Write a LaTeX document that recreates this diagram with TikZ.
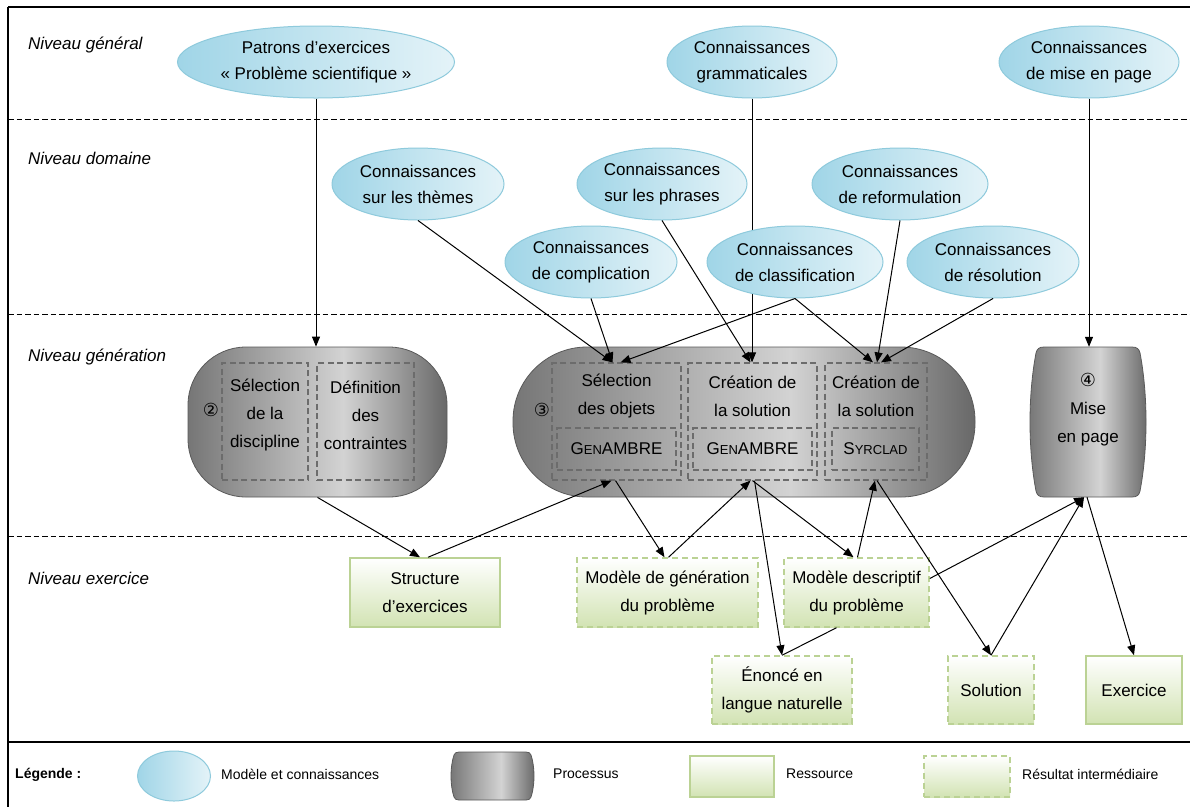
\documentclass[tikz,border=0pt]{standalone}
\usepackage{fontspec}
\setmainfont{Liberation Sans}
\newfontfamily\symf{DejaVu Sans}
\usetikzlibrary{shapes.geometric,arrows.meta,calc}
\definecolor{ellD}{HTML}{A0D5E7}
\definecolor{ellL}{HTML}{E4F3F8}
\definecolor{ellB}{HTML}{8ECADC}
\definecolor{grnB}{HTML}{BBD294}
\definecolor{grnF}{HTML}{D2E3B3}
\definecolor{pA}{HTML}{767676}
\definecolor{pL}{HTML}{D3D3D3}
\definecolor{pC}{HTML}{686868}
\definecolor{pB}{HTML}{5A5A5A}
\definecolor{dashG}{HTML}{6C6C6C}
\pgfdeclarehorizontalshading{procsh}{100bp}{color(0bp)=(pA); color(25bp)=(pA); color(55bp)=(pL); color(75bp)=(pC); color(100bp)=(pC)}
\newcommand{\GenAm}{G{\fontsize{13}{13}\selectfont EN}AMBRE}
\newcommand{\SyrCl}{S{\fontsize{13}{13}\selectfont YRCLAD}}
\tikzset{
 ell/.style={ellipse, draw=ellB, line width=1pt, left color=ellD, right color=ellL, align=center, inner sep=0pt, font=\fontsize{17}{26}\selectfont},
 proc/.style={draw=pB, line width=0.8pt, shade, shading=procsh},
 inbox/.style={draw=dashG, line width=1.2pt, dash pattern=on 6pt off 3.5pt, inner sep=0pt},
 resbox/.style={draw=grnB, line width=1.5pt, top color=white, bottom color=grnF, align=center, inner sep=0pt},
 midbox/.style={resbox, dash pattern=on 6pt off 4pt},
 arr/.style={-{Triangle[length=10pt,width=8pt]}, line width=1pt},
 plainln/.style={line width=1pt},
 lvl/.style={anchor=west, font=\fontsize{17}{20}\selectfont\itshape, inner sep=0pt},
 lvline/.style={line width=1pt, dash pattern=on 5.5pt off 3pt},
 txt/.style={align=center, inner sep=0pt},
 leg/.style={anchor=west, font=\fontsize{14}{16}\selectfont, inner sep=0pt},
 circ/.style={font=\symf\fontsize{18}{18}\selectfont, inner sep=0pt},
}
\begin{document}
\begin{tikzpicture}[x=1pt,y=-1pt,font=\fontsize{17}{28}\selectfont]
\useasboundingbox (0,0) rectangle (1190,807);
\fill[white] (0,0) rectangle (1190,807);
% frame
\draw[line width=2pt] (8,7) -- (1190,7);
\draw[line width=1.5pt] (8,7) -- (8,807);
\draw[line width=2pt] (8,742) -- (1190,742);
% level lines
\draw[lvline] (8,119) -- (1190,119);
\draw[lvline] (8,314) -- (1190,314);
\draw[lvline] (8,536) -- (1190,536);
\node[lvl] (lv1) at (28,45) {Niveau général};
\node[lvl] (lv2) at (28,158) {Niveau domaine};
\node[lvl] (lv3) at (28,357) {Niveau génération};
\node[lvl] (lv4) at (28,578) {Niveau exercice};
% processes
\node[proc, rounded corners=58pt, minimum width=259pt, minimum height=150pt] (p2) at (317.5,422) {};
\node[proc, rounded corners=74pt, minimum width=462pt, minimum height=150pt] (p3) at (744,422) {};
\path[proc] (1044,347) -- (1132,347) .. controls (1137,347) and (1139,349) .. (1140,353) .. controls (1148,395) and (1148,449) .. (1140,491) .. controls (1139,495) and (1137,497) .. (1132,497) -- (1044,497) .. controls (1039,497) and (1037,495) .. (1036,491) .. controls (1028,449) and (1028,395) .. (1036,353) .. controls (1037,349) and (1039,347) .. (1044,347) -- cycle;
\node[minimum width=110pt, minimum height=150pt, inner sep=0pt] (p4) at (1088,422) {};
\node[txt] (p4t) at (1088,410) {{\symf\fontsize{18}{18}\selectfont ④}\\Mise\\en page};
% inner boxes process 2
\node[inbox, minimum width=86pt, minimum height=117pt] (s1) at (265,421.5) {};
\node[txt] (s1t) at (265,415) {Sélection\\de la\\discipline};
\node[inbox, minimum width=97pt, minimum height=117pt] (s2) at (365.5,421.5) {};
\node[txt] (s2t) at (365.5,415) {Définition\\des\\contraintes};
\node[circ] (c2) at (211,410) {②};
% inner boxes process 3
\node[circ] (c3) at (542,410) {③};
\node[inbox, minimum width=129pt, minimum height=117pt] (t1) at (616.5,421.5) {};
\node[txt] (t1t) at (616.5,396) {Sélection\\des objets};
\node[inbox, minimum width=119pt, minimum height=42pt] (g1) at (616.5,449) {\GenAm};
\node[inbox, minimum width=129pt, minimum height=117pt] (t2) at (752.5,421.5) {};
\node[txt] (t2t) at (752.5,396) {Création de\\la solution};
\node[inbox, minimum width=119pt, minimum height=42pt] (g2) at (752.5,449) {\GenAm};
\node[inbox, minimum width=102pt, minimum height=117pt] (t3) at (876,421.5) {};
\node[txt] (t3t) at (876,396) {Création de\\la solution};
\node[inbox, minimum width=87pt, minimum height=42pt] (g3) at (875.5,449) {\SyrCl};
% top ellipses
\node[ell, minimum width=277pt, minimum height=72pt] (pat) at (316,62) {Patrons d’exercices\\« Problème scientifique »};
\node[ell, minimum width=170pt, minimum height=72pt] (gram) at (752,62) {Connaissances\\grammaticales};
\node[ell, minimum width=180pt, minimum height=72pt] (mep) at (1089,62) {Connaissances\\de mise en page};
\draw[arr] (gram.south) -- (gram.south |- t2.north);
% domain ellipses
\node[ell, minimum width=172pt, minimum height=72pt] (them) at (418,184) {Connaissances\\sur les thèmes};
\node[ell, minimum width=170pt, minimum height=72pt] (phr) at (662,184) {Connaissances\\sur les phrases};
\node[ell, minimum width=176pt, minimum height=72pt] (ref) at (900,184) {Connaissances\\de reformulation};
\node[ell, minimum width=172pt, minimum height=72pt] (comp) at (591,262) {Connaissances\\de complication};
\node[ell, minimum width=176pt, minimum height=72pt] (cls) at (795,262) {Connaissances\\de classification};
\node[ell, minimum width=172pt, minimum height=72pt] (res) at (993,262) {Connaissances\\de résolution};
% exercise level boxes
\node[resbox, minimum width=150pt, minimum height=69pt] (str) at (425,592.5) {Structure\\d’exercices};
\node[midbox, minimum width=181pt, minimum height=69pt] (mg) at (667.5,592.5) {Modèle de génération\\du problème};
\node[midbox, minimum width=145pt, minimum height=69pt] (md) at (856.5,592.5) {Modèle descriptif\\du problème};
\node[midbox, minimum width=140pt, minimum height=68pt] (en) at (782,690) {Énoncé en\\langue naturelle};
\node[midbox, minimum width=86pt, minimum height=68pt] (sol) at (991,690) {Solution};
\node[resbox, minimum width=96pt, minimum height=68pt] (ex) at (1134,690) {Exercice};
% arrows from knowledge
\draw[arr] (pat.south) -- (pat.south |- p2.north);
\draw[arr] (mep.south) -- (mep.south |- p4.north);
\draw[arr] (them.south) -- ([xshift=-4pt]t1.north);
\draw[arr] (comp.south) -- ([xshift=-4pt]t1.north);
\draw[arr] (cls.south) -- ([xshift=4pt]t1.north);
\draw[arr] (phr.south) -- ([xshift=-2pt]t2.north);
\draw[arr] (cls.south) -- ([xshift=-3pt]t3.north);
\draw[arr] (ref.south) -- ([xshift=1pt]t3.north);
\draw[arr] (res.south) -- ([xshift=5pt]t3.north);
% arrows below
\draw[arr] (p2.south) -- ([xshift=-5pt]str.north);
\draw[arr] ([xshift=3pt]str.north) -- ([xshift=-5pt]t1.south);
\draw[arr] ([xshift=-1pt]t1.south) -- ([xshift=-3pt]mg.north);
\draw[arr] ([xshift=1pt]mg.north) -- ([xshift=-2pt]t2.south);
\draw[arr] (t2.south) -- ([xshift=-3pt]md.north);
\draw[arr] ([xshift=2pt]t2.south) -- (en.north);
\draw[plainln] ([xshift=-20pt]md.south) -- (en.north);
\draw[arr] ([xshift=1pt]md.north) -- ([xshift=-1pt]t3.south);
\draw[arr] ([xshift=1pt]t3.south) -- (sol.north);
\draw[arr] (sol.north) -- ([xshift=-4pt]p4.south);
\draw[arr] ([yshift=14pt]md.east) -- ([xshift=-4pt]p4.south);
\draw[arr] ([xshift=-1pt]p4.south) -- (ex.north);
% legend
\node[font=\fontsize{14}{16}\selectfont\bfseries, anchor=west, inner sep=0pt] (legT) at (15,775) {Légende :};
\node[ell, minimum width=73pt, minimum height=50pt] (lgE) at (174,776) {};
\node[leg] (lgEt) at (221,774) {Modèle et connaissances};
\path[proc] (459,752) -- (526,752) .. controls (529,752) and (530,753) .. (531,755) .. controls (535,767) and (535,785) .. (531,797) .. controls (530,799) and (529,800) .. (526,800) -- (459,800) .. controls (456,800) and (455,799) .. (454,797) .. controls (450,785) and (450,767) .. (454,755) .. controls (455,753) and (456,752) .. (459,752) -- cycle;
\node[leg] (lgPt) at (553,774) {Processus};
\node[resbox, minimum width=84pt, minimum height=41pt] (lgR) at (732,776.5) {};
\node[leg] (lgRt) at (786,774) {Ressource};
\node[midbox, minimum width=86pt, minimum height=41pt] (lgM) at (967,776.5) {};
\node[leg] (lgMt) at (1022,774) {Résultat intermédiaire};
\end{tikzpicture}
\end{document}
